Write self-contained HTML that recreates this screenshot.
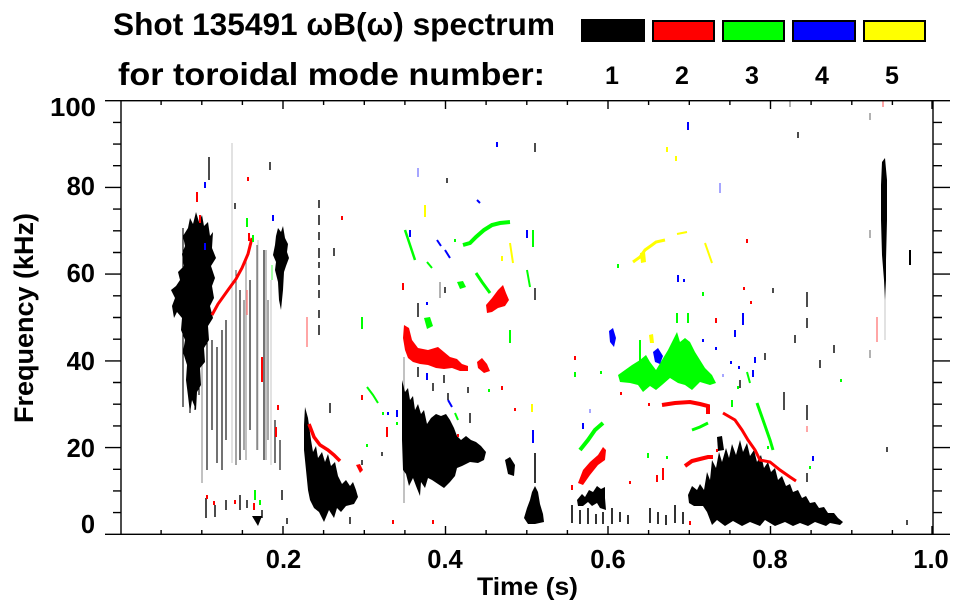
<!DOCTYPE html>
<html><head><meta charset="utf-8"><style>
html,body{margin:0;padding:0;background:#fff;}
svg{display:block;}
text{font-family:"Liberation Sans",Arial,sans-serif;font-weight:bold;fill:#000;}
</style></head><body>
<svg width="963" height="615" viewBox="0 0 963 615" xmlns="http://www.w3.org/2000/svg">
<rect width="963" height="615" fill="#fff"/>

<!-- Title -->
<text x="113" y="35" font-size="31.5" textLength="442" lengthAdjust="spacingAndGlyphs">Shot 135491 ωB(ω) spectrum</text>
<text x="118" y="85" font-size="31.5" textLength="427" lengthAdjust="spacingAndGlyphs">for toroidal mode number:</text>

<!-- Legend boxes -->
<rect x="582" y="20" width="62" height="21" fill="#000" stroke="#000" stroke-width="2"/>
<rect x="653" y="21" width="61" height="20" fill="#f00" stroke="#000" stroke-width="2"/>
<rect x="723" y="21" width="61" height="20" fill="#0f0" stroke="#000" stroke-width="2"/>
<rect x="793" y="21" width="62" height="20" fill="#00f" stroke="#000" stroke-width="2"/>
<rect x="864" y="21" width="61" height="20" fill="#ff0" stroke="#000" stroke-width="2"/>
<g font-size="25" text-anchor="middle">
<text x="612" y="84">1</text><text x="682" y="84">2</text><text x="752" y="84">3</text><text x="822" y="84">4</text><text x="892" y="84">5</text>
</g>

<!-- ===== DATA ===== -->
<g stroke-linecap="butt">
<path d="M183 228V407M190 330V413M195 340V410M199 300V395M207 330V470M212 340V430M217 347V463M222 330V470M226 320V440M240 290V460M250 280V430M264 250V460M275 420V463M280 440V470" stroke="#000" stroke-width="1.1"/>
<path d="M236 270V465M244 300V450M257 245V450M268 300V440" stroke="#222" stroke-width="0.8"/>
<path d="M202 330V483M246 260V460M266 250V460M404 357V503" stroke="#999" stroke-width="1.2"/>
<path d="M232 143V463M258 240V450M271 280V465M885 280V340" stroke="#c4c4c4" stroke-width="1"/>
</g>

<polygon fill="#000" points="188,228 190,218 193,224 196,212 199,222 202,215 204,226 208,222 210,236 213,232 212,248 216,258 211,266 215,278 212,286 214,298 210,306 213,318 208,326 209,340 204,348 205,362 200,368 201,385 197,392 196,410 192,400 190,413 188,396 186,380 187,365 183,352 185,340 181,330 182,318 177,312 174,318 172,306 175,298 171,290 176,286 180,280 178,272 184,266 182,254 185,246 183,236"/>
<polygon fill="#000" points="276,236 278,228 281,232 283,226 285,238 288,244 287,252 289,258 286,266 284,272 283,290 281,310 279,300 278,282 275,270 276,262 273,255 275,245"/>
<polygon fill="#000" points="305,407 308,418 311,440 313,452 316,446 318,458 322,452 325,462 328,454 331,466 335,462 338,476 342,484 346,480 350,486 353,482 356,490 358,497 354,504 346,506 341,512 337,508 334,518 329,510 324,522 319,512 314,508 310,500 308,490 306,470 304,450 304,425"/>
<polygon fill="#000" points="252,516 262,516 258,526"/>
<path d="M206 498v20M215 505v12M226 500v10M240 495v15M247 500v8M262 510v8M282 490v10M287 518v6M350 517v7M330 403v10M362 460v5M382 452v4" stroke="#000" stroke-width="1.4"/>
<!-- mid blob D -->
<polygon fill="#000" points="402,380 405,392 408,388 410,400 413,396 415,410 418,404 421,414 424,410 427,424 431,418 436,414 441,416 446,414 450,420 454,428 457,436 461,440 466,436 471,440 476,442 481,446 486,452 484,460 478,463 470,462 462,466 457,468 455,476 450,482 444,488 438,484 432,480 428,478 425,488 421,482 420,496 416,486 413,478 409,486 406,474 403,470 402,440"/>
<polygon fill="#000" points="530,500 532,492 535,486 538,492 540,504 543,514 544,522 535,524 528,524 524,518 527,508"/>
<path d="M535 453v30" stroke="#000" stroke-width="1.6"/>
<polygon fill="#000" points="505,460 510,457 515,465 514,476 508,474"/>
<polygon fill="#000" points="577,500 582,494 585,497 589,490 593,492 597,486 601,489 605,487 605,498 606,510 600,508 597,503 592,506 588,502 583,506 578,506"/>
<path d="M572 505v18M580 510v14M588 508v16M596 514v10M603 512v12M612 508v16M620 512v10M628 515v9M650 508v15M658 512v12M666 515v10M675 505v18M683 512v12" stroke="#000" stroke-width="1.6"/>
<polygon fill="#000" points="688,495 692,486 697,490 700,484 704,490 707,472 710,480 712,460 716,468 719,452 722,462 726,448 729,458 732,444 736,455 740,440 743,452 747,443 750,456 754,450 757,462 761,455 764,468 768,462 771,472 775,468 778,480 782,476 786,486 790,484 793,492 798,490 802,498 806,496 810,503 815,502 819,508 824,507 828,513 834,513 838,518 843,522 840,525 830,523 826,526 815,522 808,526 800,523 793,526 785,522 775,526 765,520 760,526 750,522 742,526 733,521 725,526 717,520 712,525 707,512 703,506 694,506 689,503"/>
<polygon fill="#000" points="717,437 722,436 724,450 718,451"/>
<polygon fill="#000" points="882,162 885,158 887,180 887,220 886,260 886,280 885,300 884,280 882,255 881,220 881,185"/>
<path d="M910 250v15" stroke="#000" stroke-width="2"/>
<path d="M209 157v23M235 203v6M270 162v8M319 200v8M319 215v10M319 232v8M319 248v10M319 262v6M319 275v10M319 290v8M319 310v8M319 325v10M334 248v8M418 303v14M445 287v6M447 178v5M535 143v9M535 288v12M444 375v8M448 393v7M468 387v6M470 413v10M418 367v10M433 383v8M784 392v18M807 405v15M807 473v9M807 292v15M807 318v10M795 335v8M765 353v7M773 288v5M820 360v8M834 345v8M798 132v6M887 447v5M907 520v5M740 380v8" stroke="#000" stroke-width="1.4"/>
<path d="M870 113v7M870 230v8M870 350v8M440 282v16M790 100v7" stroke="#888" stroke-width="1.3"/>

<!-- RED -->
<polyline points="212,315 218,304 228,290 236,279 242,268 248,254 252,238" fill="none" stroke="#f00" stroke-width="3"/>
<polyline points="309,424 314,437 320,445 328,450 334,455 340,461" fill="none" stroke="#f00" stroke-width="3.5"/>
<polygon fill="#f00" points="404,325 409,328 412,340 418,348 428,350 438,347 444,352 450,357 457,359 462,364 468,366 468,371 460,371 452,368 444,369 436,368 428,365 420,364 413,362 408,358 405,350 403,338"/>
<polygon fill="#f00" points="477,362 482,358 487,364 490,371 484,373 478,368"/>
<polygon fill="#f00" points="486,305 492,298 498,290 503,285 506,293 509,300 505,306 498,308 492,312 487,313"/>
<polygon fill="#f00" points="578,483 583,470 590,462 598,455 603,447 606,450 605,460 598,465 590,475 583,485"/>
<polygon fill="#f00" points="356,465 360,464 363,470 360,473"/>
<polyline points="662,405 675,403 690,402 700,404 708,406 708,414" fill="none" stroke="#f00" stroke-width="4"/>
<polyline points="685,466 692,461 700,459 708,457 713,457" fill="none" stroke="#f00" stroke-width="4"/>
<polyline points="723,413 735,420 742,430 748,440 755,450 760,460 770,462 780,470 790,477 796,481" fill="none" stroke="#f00" stroke-width="3"/>
<path d="M197 192v10M200 215v8M248 177v4M249 233v8M262 357v25M278 405v5M276 427v10M254 503v7M207 495v4M214 501v4M235 500v4M342 216v4M393 520v4M433 520v4M362 395v5M387 427v10M403 283v7M458 434v3M502 386v4M515 408v3M503 302v3M572 485v5M575 356v4M716 318v5M744 287v3M751 301v3M747 239v4M621 392v3M649 403v3M657 475v7M663 468v12M630 481v3M690 521v4M717 449v3" stroke="#f00" stroke-width="2"/>
<path d="M247 290v25M307 317v30M883 100v7M877 317v25M807 426v6" stroke="#f88" stroke-width="1.5"/>

<!-- GREEN -->
<polyline points="463,245 470,243 476,237 484,230 492,225 500,223 510,222" fill="none" stroke="#0f0" stroke-width="4"/>
<polyline points="476,273 482,282 490,293" fill="none" stroke="#0f0" stroke-width="3"/>
<polyline points="405,230 410,245 415,260" fill="none" stroke="#0f0" stroke-width="2.5"/>
<polyline points="367,387 373,395 378,403" fill="none" stroke="#0f0" stroke-width="2"/>
<polygon fill="#0f0" points="457,282 463,281 466,287 460,289"/>
<polygon fill="#0f0" points="424,318 430,317 433,326 427,329"/>
<polygon fill="#0f0" points="618,375 625,370 632,365 640,360 646,355 650,362 656,370 662,360 668,350 673,340 677,332 680,342 685,338 690,342 695,352 700,360 705,368 712,375 716,383 710,385 700,382 692,390 685,385 678,383 670,378 662,385 656,390 650,386 643,392 638,385 630,383 620,382"/>
<polyline points="692,430 700,427 708,423" fill="none" stroke="#0f0" stroke-width="3"/>
<polyline points="580,450 588,440 595,430 603,423" fill="none" stroke="#0f0" stroke-width="4"/>
<polyline points="757,403 763,420 770,440 773,450" fill="none" stroke="#0f0" stroke-width="3"/>
<path d="M247 218v9M253 235v7M255 490v10M260 500v5M362 317v12M383 412v3M397 422v3M367 444v3M427 262l5 6M455 413l3 7M510 330v13M527 270l3 17M533 230v17M455 239v3M489 389v3M640 340v23M677 313v10M688 313v10M703 292v4M618 264v4M575 372v5M601 371v3M747 372l3 11M841 379v3M732 400v7M738 386v3M648 453v5M667 456v3M810 466v3M768 446v3" stroke="#0f0" stroke-width="2"/>
<path d="M272 265v15" stroke="#8f8" stroke-width="1.5"/>

<!-- BLUE -->
<polygon fill="#00f" points="609,331 613,328 616,338 614,347 610,342"/>
<polygon fill="#00f" points="653,352 658,348 663,356 660,364 655,362"/>
<path d="M205 182v6M273 215v6M205 243v7M410 230v7M397 410v7M427 373v7M448 400l4 7M477 200l3 3M497 142v5M533 430v13M527 230v8M437 240l4 6M445 250l5 8M427 302v3M388 412v3M688 122v8M678 275v7M684 279v3M743 313v12M735 330v7M755 357v6M703 339v3M716 347v3M753 370v7M583 423v6M813 456v5M731 361v3M739 366v3" stroke="#00f" stroke-width="2"/>
<path d="M418 168v9M720 183v10M590 409v4M723 374v3" stroke="#88f" stroke-width="1.5"/>

<!-- YELLOW -->
<polyline points="633,262 640,257 645,250 652,245 656,242 665,240" fill="none" stroke="#ff0" stroke-width="3"/>
<polygon fill="#ff0" points="640,253 645,252 646,262 641,263"/>
<polygon fill="#ff0" points="649,335 653,334 654,343 650,343"/>
<path d="M425 205v12M510 243l3 20M502 256v5M532 404v8M667 147v5M676 156v5M705 243l7 20M677 234l10-2" stroke="#ff0" stroke-width="2"/>

<!-- ===== AXES ===== -->
<g stroke="#000" stroke-width="1.4" fill="none">
<rect x="121" y="100.7" width="812" height="433.6"/>
<path d="M121 100.7H105M121 187.4H105M121 274.1H105M121 360.9H105M121 447.6H105M121 534.3H105"/>
<path d="M121 122.4H113M121 144.1H113M121 165.7H113M121 209.1H113M121 230.8H113M121 252.5H113M121 295.8H113M121 317.5H113M121 339.2H113M121 382.5H113M121 404.2H113M121 425.9H113M121 469.3H113M121 490.9H113M121 512.6H113"/>
<path d="M933 100.7H950M933 187.4H950M933 274.1H950M933 360.9H950M933 447.6H950M933 534.3H950"/>
<path d="M933 122.4H942M933 144.1H942M933 165.7H942M933 209.1H942M933 230.8H942M933 252.5H942M933 295.8H942M933 317.5H942M933 339.2H942M933 382.5H942M933 404.2H942M933 425.9H942M933 469.3H942M933 490.9H942M933 512.6H942"/>
<path d="M283 534.3V526M445.5 534.3V526M608 534.3V526M770.5 534.3V526M932 534.3V526"/>
<path d="M161.1 534.3V530M201.8 534.3V530M242.4 534.3V530M323.6 534.3V530M364.3 534.3V530M404.9 534.3V530M486.1 534.3V530M526.8 534.3V530M567.4 534.3V530M648.6 534.3V530M689.3 534.3V530M729.9 534.3V530M811.1 534.3V530M851.8 534.3V530M892.4 534.3V530"/>
<path d="M283 100.7V109M445.5 100.7V109M608 100.7V109M770.5 100.7V109M932 100.7V109"/>
<path d="M161.1 100.7V105M201.8 100.7V105M242.4 100.7V105M323.6 100.7V105M364.3 100.7V105M404.9 100.7V105M486.1 100.7V105M526.8 100.7V105M567.4 100.7V105M648.6 100.7V105M689.3 100.7V105M729.9 100.7V105M811.1 100.7V105M851.8 100.7V105M892.4 100.7V105"/>
</g>

<g font-size="25.5" text-anchor="end">
<text x="96" y="116" textLength="46" lengthAdjust="spacingAndGlyphs">100</text>
<text x="95" y="195">80</text>
<text x="95" y="282">60</text>
<text x="95" y="370">40</text>
<text x="95" y="457">20</text>
<text x="95" y="533">0</text>
</g>
<g font-size="25.5" text-anchor="middle">
<text x="283.5" y="568">0.2</text>
<text x="445" y="568">0.4</text>
<text x="608" y="568">0.6</text>
<text x="770" y="568">0.8</text>
<text x="931" y="568">1.0</text>
</g>
<text x="477" y="595" font-size="25" textLength="101" lengthAdjust="spacingAndGlyphs">Time (s)</text>
<text transform="translate(33,318) rotate(-90)" font-size="27" text-anchor="middle" textLength="210" lengthAdjust="spacingAndGlyphs">Frequency (kHz)</text>
</svg>
</body></html>
